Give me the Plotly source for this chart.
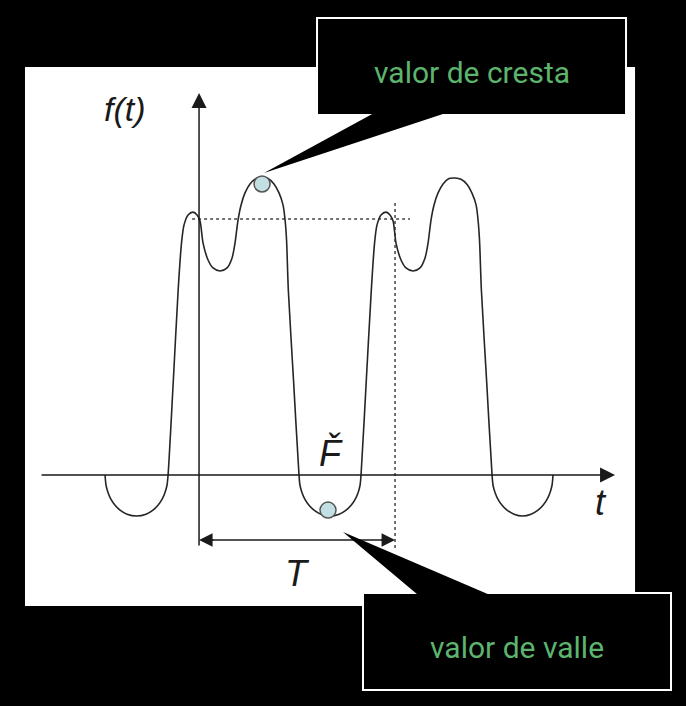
import plotly.graph_objects as go

# ---- data (t in ms with period T = 20 ms, f normalised so that f(0) = 1) ----
T_PERIOD = 20.0

t_curve = [
    # first valley
    -9.59, -9.49, -9.28, -8.98, -8.57, -8.06, -7.35, -6.38, -5.41, -4.70, -4.19, -3.78, -3.48, -3.27, -3.16,
    # first period humps
    -2.62, -2.13, -1.79, -1.53, -1.12, -0.61, -0.20, 0.10, 0.41, 0.92, 1.43,
    2.14, 2.86, 3.37, 3.67, 3.98, 4.29, 4.69, 5.20, 5.82, 6.43, 7.04, 7.65,
    8.16, 8.57, 8.78, 8.93, 9.11, 9.64, 10.20,
    # second valley
    10.30, 10.51, 10.81, 11.22, 11.73, 12.44, 13.37, 14.30, 15.01, 15.52, 15.93, 16.23, 16.43, 16.53,
    # second period humps
    17.07, 17.58, 17.91, 18.16, 18.57, 19.08, 19.49, 19.80, 20.10, 20.61, 21.12,
    21.84, 22.55, 23.06, 23.37, 23.67, 23.98, 24.39, 24.90, 25.51, 26.12, 26.73, 27.35,
    27.86, 28.27, 28.47, 28.62, 28.81, 29.34, 29.90,
    # third valley
    30.00, 30.21, 30.51, 30.92, 31.43, 32.14, 33.01, 33.88, 34.59, 35.10, 35.51, 35.81, 36.02, 36.12,
]
f_curve = [
    0.0, -0.040, -0.069, -0.095, -0.118, -0.137, -0.153, -0.160, -0.153, -0.137, -0.118, -0.095, -0.069, -0.040, 0.0,
    0.371, 0.723, 0.906, 0.977, 1.016, 1.027, 1.016, 0.992, 0.906, 0.840, 0.809,
    0.797, 0.809, 0.848, 0.906, 0.996, 1.055, 1.102, 1.137, 1.158, 1.164, 1.158, 1.137,
    1.102, 1.055, 0.996, 0.918, 0.723, 0.371, 0.0,
    -0.040, -0.069, -0.095, -0.118, -0.137, -0.153, -0.160, -0.153, -0.137, -0.118, -0.095, -0.069, -0.040, 0.0,
    0.371, 0.723, 0.906, 0.977, 1.016, 1.027, 1.016, 0.992, 0.906, 0.840, 0.809,
    0.797, 0.809, 0.848, 0.906, 0.996, 1.055, 1.102, 1.137, 1.158, 1.160, 1.155, 1.135,
    1.100, 1.055, 0.996, 0.918, 0.723, 0.371, 0.0,
    -0.040, -0.069, -0.095, -0.118, -0.137, -0.153, -0.160, -0.153, -0.137, -0.118, -0.095, -0.069, -0.040, 0.0,
]

crest_point = (6.43, 1.137)     # valor de cresta
valley_point = (13.16, -0.137)  # valor de valle
reference_level = 1.0           # f(0) = f(T)

label_crest = "valor de cresta"
label_valley = "valor de valle"
label_f = "<i>f(t)</i>"
label_t = "<i>t</i>"
label_T = "<i>T</i>"
label_F = "<i>F\u030c</i>"

GREEN = "#5cb46e"
INK = "#1a1a1a"

fig = go.Figure()

fig.add_trace(go.Scatter(
    x=t_curve, y=f_curve, mode="lines",
    line=dict(color="#262626", width=1.6, shape="spline", smoothing=0.8),
    hoverinfo="skip", showlegend=False,
))
fig.add_trace(go.Scatter(
    x=[crest_point[0], valley_point[0]], y=[crest_point[1], valley_point[1]],
    mode="markers",
    marker=dict(size=16, color="#c2e0e3", line=dict(color="#555555", width=1.5)),
    hoverinfo="skip", showlegend=False,
))

shapes = [
    # white drawing panel
    dict(type="rect", xref="x", yref="y", x0=-17.76, x1=44.49, y0=-0.512, y1=1.594,
         fillcolor="white", line=dict(width=0), layer="below"),
    # dotted reference level
    dict(type="line", xref="x", yref="y", x0=-0.71, x1=21.53, y0=reference_level, y1=reference_level,
         line=dict(color="#444444", width=1.5, dash="dot"), layer="below"),
    # dotted vertical at t = T
    dict(type="line", xref="x", yref="y", x0=T_PERIOD, x1=T_PERIOD, y0=-0.285, y1=1.066,
         line=dict(color="#444444", width=1.5, dash="dot"), layer="below"),
    # period bracket line
    dict(type="line", xref="x", yref="y", x0=0.5, x1=T_PERIOD - 0.5, y0=-0.254, y1=-0.254,
         line=dict(color=INK, width=1.5), layer="above"),
    # top callout box
    dict(type="rect", xref="x", yref="y", x0=12.04, x1=43.57, y0=1.406, y1=1.785,
         fillcolor="black", line=dict(color="white", width=2), layer="above"),
    dict(type="path", xref="x", yref="y",
         path="M 17.86,1.414 L 25.20,1.414 L 6.63,1.180 Z",
         fillcolor="black", line=dict(width=0), layer="above"),
    # bottom callout box
    dict(type="rect", xref="x", yref="y", x0=16.73, x1=48.16, y0=-0.840, y1=-0.461,
         fillcolor="black", line=dict(color="white", width=2), layer="above"),
    dict(type="path", xref="x", yref="y",
         path="M 14.69,-0.223 L 22.35,-0.469 L 29.69,-0.469 Z",
         fillcolor="black", line=dict(width=0), layer="above"),
]

def arrow(x, y, ax, ay, size=2.0):
    return dict(x=x, y=y, ax=ax, ay=ay, xref="x", yref="y", axref="x", ayref="y",
                text="", showarrow=True, arrowhead=2, arrowsize=size, arrowwidth=1.5,
                arrowcolor=INK, standoff=0, startstandoff=0)

annotations = [
    arrow(0, 1.492, 0, -0.281),            # f axis
    arrow(42.45, 0, -16.22, 0),            # t axis
    arrow(0, -0.254, 1.6, -0.254, 1.8),    # bracket left head
    arrow(T_PERIOD, -0.254, T_PERIOD - 1.6, -0.254, 1.8),  # bracket right head
    dict(x=-7.55, y=1.43, xref="x", yref="y", text=label_f, showarrow=False,
         font=dict(family="Liberation Sans, Arial", size=34, color=INK)),
    dict(x=41.0, y=-0.109, xref="x", yref="y", text=label_t, showarrow=False,
         font=dict(family="Liberation Sans, Arial", size=36, color=INK)),
    dict(x=10.0, y=-0.383, xref="x", yref="y", text=label_T, showarrow=False,
         font=dict(family="Liberation Sans, Arial", size=36, color=INK)),
    dict(x=13.47, y=0.087, xref="x", yref="y", text=label_F, showarrow=False,
         font=dict(family="Liberation Sans, Arial", size=36, color=INK)),
    dict(x=27.81, y=1.574, xref="x", yref="y", text=label_crest, showarrow=False,
         font=dict(family="Roboto", size=30, color=GREEN)),
    dict(x=32.40, y=-0.672, xref="x", yref="y", text=label_valley, showarrow=False,
         font=dict(family="Roboto", size=30, color=GREEN)),
]

fig.update_layout(
    width=686, height=706,
    margin=dict(l=0, r=0, t=0, b=0),
    paper_bgcolor="black", plot_bgcolor="black",
    xaxis=dict(range=[-20.31, 49.69], visible=False, fixedrange=True),
    yaxis=dict(range=[-0.9023, 1.8555], visible=False, fixedrange=True),
    shapes=shapes, annotations=annotations, showlegend=False,
)

fig.write_html(
    "out.html",
    config={"displayModeBar": False},
    post_script="document.body.style.margin='0';document.body.style.overflow='hidden';",
)
